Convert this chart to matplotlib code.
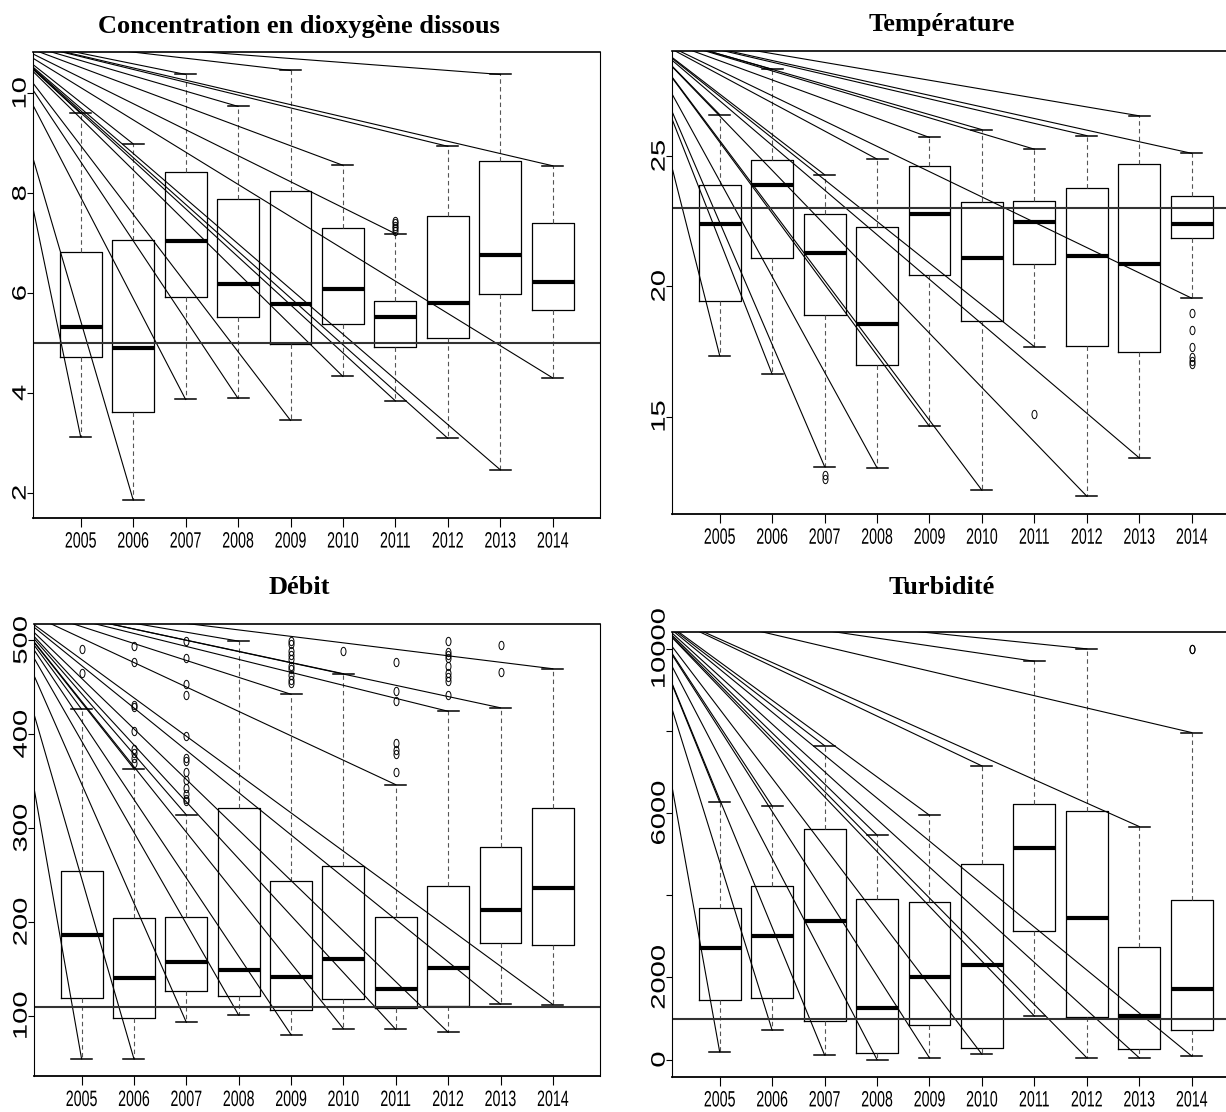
import matplotlib
matplotlib.use('Agg')
import matplotlib.pyplot as plt
from matplotlib.path import Path
from matplotlib.patheffects import AbstractPathEffect
from matplotlib.transforms import Affine2D

# Données lues par année (quartiles, moustaches, valeurs extrêmes)
annees = [2005, 2006, 2007, 2008, 2009, 2010, 2011, 2012, 2013, 2014]

# Concentration en dioxygène dissous
o2_bas = [3.12, 1.86, 3.87, 3.89, 3.45, 4.33, 3.84, 3.09, 2.46, 4.30]
o2_q1 = [4.73, 3.62, 5.92, 5.53, 4.98, 5.39, 4.92, 5.11, 5.99, 5.67]
o2_med = [5.32, 4.91, 7.05, 6.18, 5.78, 6.08, 5.53, 5.81, 6.77, 6.22]
o2_q3 = [6.82, 7.07, 8.42, 7.89, 8.05, 7.30, 5.84, 7.55, 8.65, 7.40]
o2_haut = [9.60, 8.99, 10.38, 9.74, 10.46, 8.56, 7.19, 8.94, 10.38, 8.55]
o2_out = [[], [], [], [], [], [], [7.25, 7.30, 7.35, 7.40, 7.45], [], [], []]
o2_seuil = 5

# Température
t_bas = [17.34, 16.63, 13.08, 13.03, 14.62, 12.17, 17.68, 11.94, 13.41, 19.54]
t_q1 = [19.42, 21.07, 18.88, 16.97, 20.44, 18.65, 20.85, 17.72, 17.48, 21.86]
t_med = [22.39, 23.88, 21.27, 18.54, 22.76, 21.07, 22.46, 21.16, 20.85, 22.39]
t_q3 = [23.90, 24.84, 22.76, 22.27, 24.63, 23.23, 23.27, 23.76, 24.71, 23.46]
t_haut = [26.59, 28.33, 24.28, 24.88, 25.71, 26.01, 25.26, 25.78, 26.54, 25.10]
t_out = [[], [], [12.75, 12.60], [], [], [], [15.10], [], [],
         [18.98, 18.31, 17.65, 17.30, 17.15, 17.00]]
t_seuil = 23

# Débit
d_bas = [54.3, 54.3, 93.2, 100.8, 80.0, 86.4, 85.6, 82.6, 112.5, 112.1]
d_q1 = [119.6, 98.1, 126.8, 120.8, 106.4, 117.8, 108.3, 110.9, 178.2, 175.2]
d_med = [186.5, 140.4, 157.4, 148.7, 141.2, 160.1, 129.1, 151.0, 213.3, 236.7]
d_q3 = [254.5, 204.6, 205.4, 321.7, 243.2, 260.2, 205.4, 238.6, 280.2, 321.0]
d_haut = [426.7, 363.3, 314.2, 499.2, 442.6, 464.5, 346.3, 424.5, 428.2, 469.8]
d_out = [[490.6, 465.5],
         [494.0, 476.7, 431.0, 429.0, 403.6, 384.0, 380.0, 374.6, 369.0],
         [499.0, 481.5, 453.5, 442.0, 398.0, 374.6, 371.6, 360.2, 351.2,
          342.5, 336.1, 331.2, 328.6],
         [],
         [499.0, 496.0, 488.7, 484.9, 480.4, 472.8, 469.8, 463.4, 457.7, 454.7],
         [488.7],
         [476.6, 446.4, 435.0, 390.5, 382.9, 379.1, 360.2],
         [499.2, 487.9, 484.9, 481.1, 472.8, 465.3, 461.5, 456.9, 441.8],
         [495.5, 466.4],
         []]
d_seuil = 110

# Turbidité
tu_bas = [190, 717, 112, 0, 43, 130, 1062, 43, 43, 86]
tu_q1 = [1451, 1511, 950, 173, 846, 276, 3143, 1036, 259, 717]
tu_med = [2720, 3022, 3368, 1252, 2012, 2306, 5155, 3454, 1054, 1727]
tu_q3 = [3696, 4231, 5613, 3903, 3834, 4767, 6218, 6062, 2746, 3886]
tu_haut = [6269, 6174, 7642, 5466, 5950, 7150, 9698, 10000, 5674, 7962]
tu_out = [[], [], [], [], [], [], [], [], [], [10000, 10000]]
tu_seuil = 1000


class Serre(AbstractPathEffect):
    """Resserre le texte horizontalement autour de son centre."""

    def __init__(self, sx):
        super().__init__()
        self.sx = sx

    def draw_path(self, renderer, gc, tpath, affine, rgbFace=None):
        ext = tpath.get_extents(affine)
        cx = (ext.x0 + ext.x1) / 2
        aff = affine + Affine2D().translate(-cx, 0).scale(self.sx, 1).translate(cx, 0)
        renderer.draw_path(gc, tpath, aff, rgbFace)


# cercle étiré pour les valeurs extrêmes
cercle = Path(Path.unit_circle().vertices * [0.6, 1.0], Path.unit_circle().codes)


def panneau(ax, bas, q1, med, q3, haut, out, seuil, ylim, yticks, ylabels, origine):
    stats = []
    for i in range(len(annees)):
        stats.append(dict(med=med[i], q1=q1[i], q3=q3[i],
                          whislo=bas[i], whishi=haut[i], fliers=out[i]))
    ax.bxp(stats, positions=range(1, 11), widths=0.8, capwidths=0.4,
           manage_ticks=False,
           boxprops=dict(color='black', linewidth=0.9),
           medianprops=dict(color='black', linewidth=3.0, solid_capstyle='butt'),
           whiskerprops=dict(color='#555555', linewidth=0.8, linestyle=(0, (4, 3))),
           capprops=dict(color='black', linewidth=1.1),
           flierprops=dict(marker=cercle, markerfacecolor='none',
                           markeredgecolor='black', markersize=6,
                           markeredgewidth=0.7, linestyle='none'))

    # traits partant d'un même point vers le bout de chaque moustache
    x0 = 0.1 + origine[0] * 10.8
    y0 = ylim[0] + origine[1] * (ylim[1] - ylim[0])
    for i in range(len(annees)):
        for v in (bas[i], haut[i]):
            ax.plot([x0, i + 1], [y0, v], color='black', linewidth=0.8)

    ax.axhline(seuil, color='#333333', linewidth=1.5)

    ax.set_xticks(range(1, 11))
    ax.set_xticklabels([str(a) for a in annees], family='Liberation Sans',
                       fontsize=16, va='center')
    ax.set_yticks(yticks)
    ax.set_yticklabels(ylabels, family='Liberation Sans', fontsize=21,
                       rotation=90, va='center', ha='center')
    ax.tick_params(axis='x', length=6.5, width=0.8, pad=11)
    ax.tick_params(axis='y', length=4.3, width=0.8, pad=4.7)
    for lab in ax.get_xticklabels():
        lab.set_path_effects([Serre(0.64)])
    for lab in ax.get_yticklabels():
        lab.set_path_effects([Serre(0.67)])
        lab.set_ha('center')
        lab.set_va('center')

    ax.spines['top'].set_linewidth(1.2)
    ax.spines['bottom'].set_linewidth(1.3)
    ax.spines['left'].set_linewidth(0.8)
    ax.spines['right'].set_linewidth(0.8)
    ax.set_xlim(0.1, 10.9)
    ax.set_ylim(*ylim)


fig = plt.figure(figsize=(12.26, 11.12), dpi=100)

ax1 = fig.add_axes([0.0273, 0.5344, 0.4621, 0.4184])
panneau(ax1, o2_bas, o2_q1, o2_med, o2_q3, o2_haut, o2_out, o2_seuil,
        (1.50, 10.82), [2, 4, 6, 8, 10], ['2', '4', '6', '8', '10'], (-0.064, 1.035))

ax2 = fig.add_axes([0.5485, 0.5378, 0.4621, 0.4159])
panneau(ax2, t_bas, t_q1, t_med, t_q3, t_haut, t_out, t_seuil,
        (11.26, 29.01), [15, 20, 25], ['15', '20', '25'], (-0.062, 1.045))

ax3 = fig.add_axes([0.0281, 0.0322, 0.4613, 0.4066])
panneau(ax3, d_bas, d_q1, d_med, d_q3, d_haut, d_out, d_seuil,
        (35.8, 517.4), [100, 200, 300, 400, 500],
        ['100', '200', '300', '400', '500'], (-0.059, 1.052))

ax4 = fig.add_axes([0.5485, 0.0318, 0.4621, 0.4003])
panneau(ax4, tu_bas, tu_q1, tu_med, tu_q3, tu_haut, tu_out, tu_seuil,
        (-414, 10423), [0, 2000, 4000, 6000, 8000, 10000],
        ['0', '2000', '', '6000', '', '10000'], (-0.059, 1.064))

# titres
titre = dict(ha='center', va='center', fontsize=19, fontweight='bold',
             family='Liberation Serif')
fig.text(299 / 1226, 1 - 26.6 / 1112, 'Concentration en dioxygène dissous', **titre)
fig.text(942 / 1226, 1 - 24.8 / 1112, 'Température', **titre)
fig.text(299 / 1226, 1 - 587 / 1112, 'Débit', **titre)
fig.text(942 / 1226, 1 - 587 / 1112, 'Turbidité', **titre)

fig.savefig('out.png', dpi=100)
